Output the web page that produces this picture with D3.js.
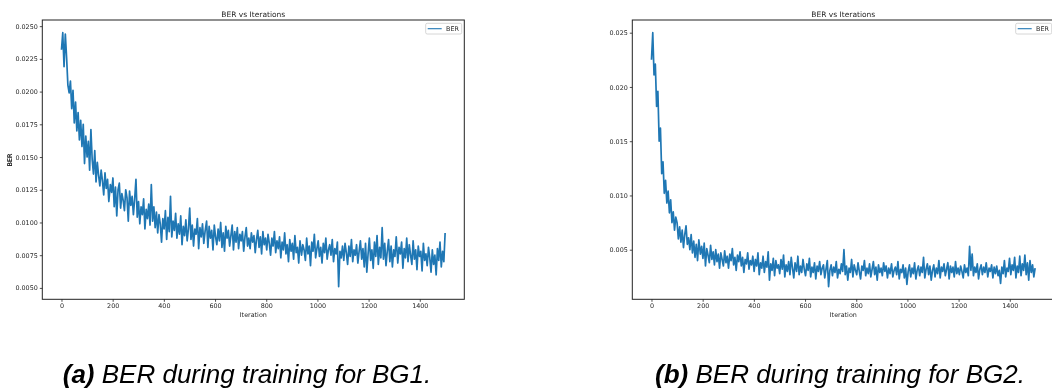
<!doctype html>
<html>
<head>
<meta charset="utf-8">
<style>
  body { margin: 0; background: #fff; }
  svg { display: block; will-change: transform; }
  text { font-family: "DejaVu Sans", sans-serif; fill: #262626; }
  .caption { font-family: "Liberation Sans", Arial, sans-serif; fill: #000; }
</style>
<script src="https://d3js.org/d3.v7.min.js"></script>
</head>
<body>
<svg width="1052" height="392"></svg>
<script>
var berBG1 = [
  0.0232, 0.0245, 0.0219, 0.0244, 0.0226, 0.0205, 0.0199, 0.0208, 0.0187, 0.0201,
  0.0176, 0.0192, 0.0170, 0.0184, 0.0163, 0.0178, 0.0158, 0.0175, 0.0145, 0.0166,
  0.0150, 0.0162, 0.0140, 0.0171, 0.0148, 0.0137, 0.0155, 0.0131, 0.0146, 0.0136,
  0.0128, 0.0140, 0.0132, 0.0121, 0.0138, 0.0126, 0.0133, 0.0116, 0.0129, 0.0123,
  0.0134, 0.0112, 0.0127, 0.0105, 0.0125, 0.0130, 0.0111, 0.0122, 0.0117, 0.0109,
  0.0125, 0.0119, 0.0101, 0.0124, 0.0113, 0.0120, 0.0106, 0.0118, 0.0133, 0.0104,
  0.0116, 0.0099, 0.0112, 0.0106, 0.0118, 0.0095, 0.0110, 0.0103, 0.0114, 0.0098,
  0.0129, 0.0101, 0.0112, 0.0096, 0.0108, 0.0092, 0.0106, 0.0099, 0.0085, 0.0103,
  0.0095, 0.0109, 0.0087, 0.0104, 0.0093, 0.0120, 0.0089, 0.0101, 0.0094, 0.0107,
  0.0088, 0.0099, 0.0091, 0.0105, 0.0083, 0.0097, 0.0090, 0.0102, 0.0086, 0.0095,
  0.0111, 0.0087, 0.0098, 0.0082, 0.0095, 0.0091, 0.0103, 0.0080, 0.0096, 0.0089,
  0.0099, 0.0084, 0.0093, 0.0101, 0.0081, 0.0097, 0.0088, 0.0094, 0.0079, 0.0098,
  0.0089, 0.0083, 0.0095, 0.0086, 0.0100, 0.0081, 0.0092, 0.0078, 0.0097, 0.0088,
  0.0094, 0.0082, 0.0090, 0.0098, 0.0079, 0.0093, 0.0085, 0.0096, 0.0080, 0.0091,
  0.0086, 0.0093, 0.0078, 0.0089, 0.0096, 0.0082, 0.0088, 0.0080, 0.0092, 0.0085,
  0.0090, 0.0077, 0.0087, 0.0094, 0.0081, 0.0089, 0.0076, 0.0093, 0.0083, 0.0088,
  0.0079, 0.0091, 0.0084, 0.0075, 0.0088, 0.0082, 0.0093, 0.0077, 0.0086, 0.0080,
  0.0089, 0.0073, 0.0085, 0.0079, 0.0092, 0.0076, 0.0083, 0.0070, 0.0087, 0.0078,
  0.0084, 0.0072, 0.0090, 0.0077, 0.0081, 0.0069, 0.0086, 0.0075, 0.0083, 0.0079,
  0.0071, 0.0088, 0.0076, 0.0082, 0.0067, 0.0085, 0.0078, 0.0091, 0.0073, 0.0080,
  0.0086, 0.0074, 0.0081, 0.0069, 0.0084, 0.0077, 0.0088, 0.0072, 0.0079, 0.0083,
  0.0075, 0.0087, 0.0070, 0.0080, 0.0076, 0.0085, 0.0051, 0.0078, 0.0073, 0.0082,
  0.0071, 0.0084, 0.0077, 0.0068, 0.0082, 0.0074, 0.0087, 0.0070, 0.0079, 0.0075,
  0.0083, 0.0069, 0.0078, 0.0086, 0.0072, 0.0080, 0.0066, 0.0084, 0.0062, 0.0076,
  0.0088, 0.0071, 0.0079, 0.0065, 0.0085, 0.0074, 0.0090, 0.0068, 0.0081, 0.0073,
  0.0096, 0.0072, 0.0084, 0.0067, 0.0078, 0.0087, 0.0070, 0.0082, 0.0066, 0.0079,
  0.0074, 0.0089, 0.0069, 0.0081, 0.0076, 0.0085, 0.0065, 0.0080, 0.0073, 0.0088,
  0.0070, 0.0083, 0.0075, 0.0068, 0.0086, 0.0072, 0.0079, 0.0064, 0.0082, 0.0074,
  0.0078, 0.0063, 0.0084, 0.0071, 0.0076, 0.0067, 0.0081, 0.0073, 0.0062, 0.0079,
  0.0068, 0.0075, 0.0060, 0.0080, 0.0071, 0.0085, 0.0066, 0.0078, 0.0070, 0.0092
];

var berBG2 = [
  0.0225, 0.0250, 0.0211, 0.0221, 0.0182, 0.0196, 0.0150, 0.0162, 0.0120, 0.0131,
  0.0102, 0.0114, 0.0093, 0.0104, 0.0084, 0.0096, 0.0075, 0.0085, 0.0068, 0.0080,
  0.0075, 0.0060, 0.0071, 0.0057, 0.0068, 0.0052, 0.0064, 0.0072, 0.0055, 0.0061,
  0.0050, 0.0064, 0.0047, 0.0058, 0.0043, 0.0055, 0.0040, 0.0059, 0.0046, 0.0053,
  0.0042, 0.0056, 0.0035, 0.0051, 0.0045, 0.0038, 0.0054, 0.0041, 0.0048, 0.0036,
  0.0050, 0.0039, 0.0046, 0.0033, 0.0047, 0.0041, 0.0035, 0.0049, 0.0038, 0.0044,
  0.0033, 0.0046, 0.0040, 0.0051, 0.0036, 0.0043, 0.0031, 0.0045, 0.0039, 0.0048,
  0.0035, 0.0043, 0.0029, 0.0041, 0.0037, 0.0047, 0.0032, 0.0040, 0.0036, 0.0044,
  0.0030, 0.0041, 0.0035, 0.0047, 0.0027, 0.0038, 0.0033, 0.0044, 0.0029, 0.0039,
  0.0034, 0.0048, 0.0022, 0.0037, 0.0031, 0.0042, 0.0026, 0.0040, 0.0033, 0.0036,
  0.0028, 0.0041, 0.0032, 0.0045, 0.0025, 0.0036, 0.0030, 0.0039, 0.0027, 0.0043,
  0.0033, 0.0024, 0.0038, 0.0030, 0.0044, 0.0027, 0.0035, 0.0029, 0.0041, 0.0032,
  0.0026, 0.0037, 0.0031, 0.0042, 0.0025, 0.0034, 0.0029, 0.0038, 0.0023, 0.0035,
  0.0030, 0.0039, 0.0027, 0.0033, 0.0036, 0.0024, 0.0032, 0.0040, 0.0016, 0.0031,
  0.0036, 0.0026, 0.0034, 0.0029, 0.0039, 0.0024, 0.0032, 0.0028, 0.0037, 0.0030,
  0.0050, 0.0027, 0.0035, 0.0022, 0.0033, 0.0029, 0.0041, 0.0025, 0.0036, 0.0031,
  0.0027, 0.0038, 0.0030, 0.0023, 0.0035, 0.0031, 0.0040, 0.0026, 0.0033, 0.0028,
  0.0037, 0.0025, 0.0032, 0.0039, 0.0027, 0.0034, 0.0022, 0.0036, 0.0029, 0.0033,
  0.0026, 0.0038, 0.0030, 0.0035, 0.0024, 0.0033, 0.0028, 0.0037, 0.0025, 0.0031,
  0.0034, 0.0027, 0.0039, 0.0023, 0.0032, 0.0029, 0.0036, 0.0024, 0.0033, 0.0018,
  0.0030, 0.0036, 0.0025, 0.0033, 0.0028, 0.0038, 0.0023, 0.0031, 0.0035, 0.0026,
  0.0034, 0.0029, 0.0043, 0.0024, 0.0032, 0.0037, 0.0027, 0.0035, 0.0022, 0.0031,
  0.0036, 0.0025, 0.0033, 0.0028, 0.0040, 0.0024, 0.0034, 0.0030, 0.0037, 0.0026,
  0.0032, 0.0038, 0.0023, 0.0035, 0.0029, 0.0034, 0.0025, 0.0039, 0.0028, 0.0033,
  0.0027, 0.0035, 0.0030, 0.0024, 0.0036, 0.0029, 0.0033, 0.0026, 0.0053, 0.0031,
  0.0046, 0.0026, 0.0034, 0.0029, 0.0037, 0.0023, 0.0032, 0.0036, 0.0027, 0.0034,
  0.0029, 0.0038, 0.0025, 0.0033, 0.0030, 0.0036, 0.0024, 0.0034, 0.0028, 0.0035,
  0.0026, 0.0031, 0.0019, 0.0034, 0.0028, 0.0040, 0.0025, 0.0033, 0.0030, 0.0042,
  0.0027, 0.0036, 0.0031, 0.0043, 0.0024, 0.0035, 0.0029, 0.0044, 0.0026, 0.0037,
  0.0031, 0.0045, 0.0027, 0.0038, 0.0022, 0.0040, 0.0029, 0.0036, 0.0025, 0.0033
];

var lastIteration = 1499;
var xTicks = [0, 200, 400, 600, 800, 1000, 1200, 1400];
var yTicksBG1 = [0.0050, 0.0075, 0.0100, 0.0125, 0.0150, 0.0175, 0.0200, 0.0225, 0.0250];
var yTicksBG2 = [0.005, 0.010, 0.015, 0.020, 0.025];
var captions = [
  { tag: "(a)", text: " BER during training for BG1." },
  { tag: "(b)", text: " BER during training for BG2." }
];

var svg = d3.select("svg");
var lineColor = "#1f77b4";

function drawPanel(values, yTicks, fmt, left, caption, captionX) {
    var w = 422, top = 20, bottom = 299.3;
    var iters = values.map(function(d, i) { return Math.round(i * lastIteration / (values.length - 1)); });

    // matplotlib-like 5% margins
    var xPad = lastIteration * 0.05;
    var yMin = d3.min(values), yMax = d3.max(values), yPad = (yMax - yMin) * 0.05;
    var x = d3.scaleLinear().domain([-xPad, lastIteration + xPad]).range([0, w]);
    var y = d3.scaleLinear().domain([yMin - yPad, yMax + yPad]).range([bottom - top, 0]);

    var g = svg.append("g").attr("transform", "translate(" + left + "," + top + ")");

    g.append("path")
     .datum(values)
     .attr("fill", "none")
     .attr("stroke", lineColor)
     .attr("stroke-width", 1.7)
     .attr("stroke-linejoin", "round")
     .attr("d", d3.line()
        .x(function(d, i) { return x(iters[i]); })
        .y(function(d) { return y(d); }));

    var xAxis = g.append("g")
     .attr("transform", "translate(0," + (bottom - top) + ")")
     .call(d3.axisBottom(x).tickValues(xTicks).tickSize(2.5).tickPadding(2).tickFormat(d3.format("d")));
    var yAxis = g.append("g")
     .call(d3.axisLeft(y).tickValues(yTicks).tickSize(2.5).tickPadding(2).tickFormat(d3.format(fmt)));

    [xAxis, yAxis].forEach(function(a) {
        a.select(".domain").remove();
        a.selectAll("line").attr("stroke", "#222").attr("stroke-width", 0.8);
        a.selectAll("text").attr("font-size", "6.4px").attr("fill", "#262626")
         .style("font-family", "'DejaVu Sans', sans-serif");
    });

    // frame
    g.append("rect")
     .attr("x", 0).attr("y", 0)
     .attr("width", w).attr("height", bottom - top)
     .attr("fill", "none").attr("stroke", "#222").attr("stroke-width", 1);

    g.append("text")
     .attr("x", w / 2).attr("y", -3.5)
     .attr("text-anchor", "middle")
     .attr("font-size", "7.5px")
     .text("BER vs Iterations");

    g.append("text")
     .attr("x", x(lastIteration / 2)).attr("y", bottom - top + 18)
     .attr("text-anchor", "middle")
     .attr("font-size", "6.4px")
     .text("Iteration");

    g.append("text")
     .attr("transform", "translate(" + (10 - left) + "," + (160 - top) + ") rotate(-90)")
     .attr("text-anchor", "middle")
     .attr("dy", "0.35em")
     .attr("font-size", "6.4px")
     .text("BER");

    // legend
    var lg = g.append("g").attr("transform", "translate(" + (w - 38.6) + ",3.3)");
    lg.append("rect")
     .attr("width", 36).attr("height", 10.7).attr("rx", 1.5)
     .attr("fill", "#fff").attr("fill-opacity", 0.8)
     .attr("stroke", "#ccc").attr("stroke-width", 0.8);
    lg.append("line")
     .attr("x1", 2).attr("x2", 16).attr("y1", 5.4).attr("y2", 5.4)
     .attr("stroke", lineColor).attr("stroke-width", 1.1);
    lg.append("text")
     .attr("x", 20.3).attr("y", 5.4).attr("dy", "0.35em")
     .attr("font-size", "6.4px")
     .text("BER");

    // sub-figure caption
    var cap = svg.append("text")
     .attr("class", "caption")
     .attr("x", captionX).attr("y", 383)
     .attr("text-anchor", "middle")
     .attr("font-size", "26px")
     .attr("font-style", "italic");
    cap.append("tspan").attr("font-weight", "bold").text(caption.tag);
    cap.append("tspan").text(caption.text);
}

drawPanel(berBG1, yTicksBG1, ".4f", 42.3, captions[0], 247);
drawPanel(berBG2, yTicksBG2, ".3f", 632.3, captions[1], 840);
</script>
</body>
</html>
